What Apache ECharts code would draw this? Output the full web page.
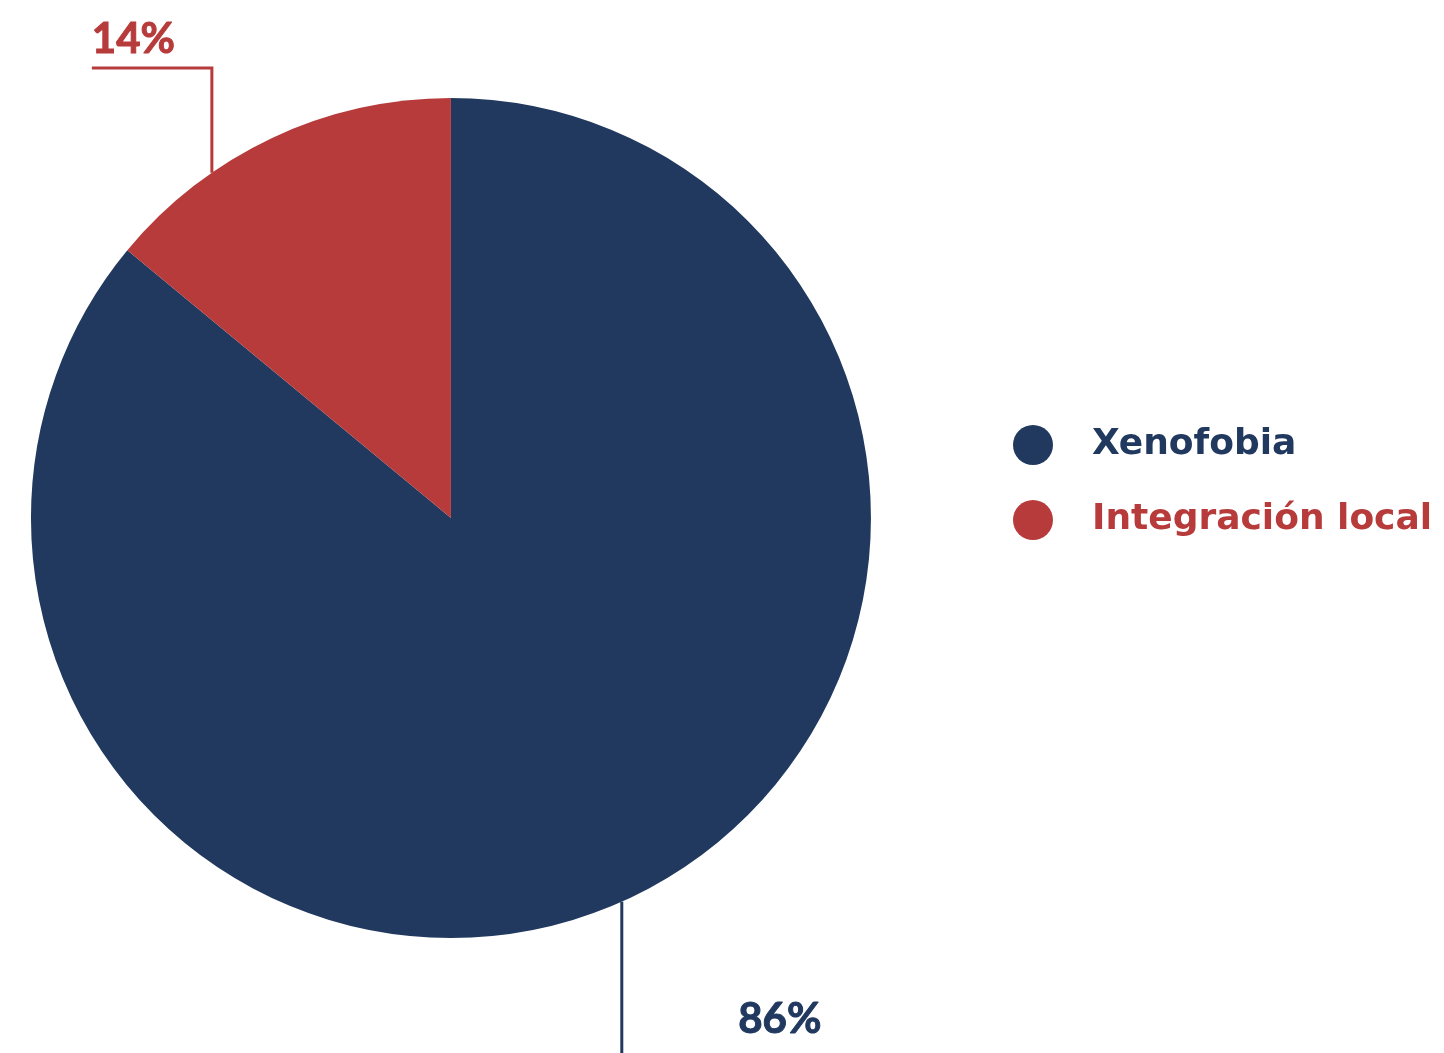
<!DOCTYPE html>
<html>
<head>
<meta charset="utf-8">
<script src="https://cdn.jsdelivr.net/npm/echarts@6/dist/echarts.min.js"></script>
<style>
html,body{margin:0;padding:0;background:#fff;}
#chart{width:1444px;height:1053px;}
</style>
</head>
<body>
<div id="chart"></div>
<script>
const categories = ['Xenofobia', 'Integración local'];
const values = [86, 14];
const colors = ['#21395F', '#B63B3A'];

const chart = echarts.init(document.getElementById('chart'));
const CX = 0.3123, CY = 0.4919, R = 420;

function layout(params) {
  const w = chart.getWidth(), h = chart.getHeight();
  const cx = w * CX, cy = h * CY;
  if (params.dataIndex === 1) {
    const a = 124.7 * Math.PI / 180;
    const sx = cx + R * Math.cos(a), sy = cy - R * Math.sin(a);
    const topY = cy - R - 30;
    const endX = sx - 120;
    return {
      x: endX, y: topY - 29, align: 'left', verticalAlign: 'middle',
      labelLinePoints: [[sx, sy], [sx, topY], [endX, topY]]
    };
  } else {
    const a = -66 * Math.PI / 180;
    const sx = cx + R * Math.cos(a), sy = cy - R * Math.sin(a);
    return {
      x: sx + 158, y: cy + 501, align: 'center', verticalAlign: 'middle',
      labelLinePoints: [[sx, sy], [sx, h + 20], [sx, h + 30]]
    };
  }
}

chart.setOption({
  animation: false,
  color: colors,
  legend: {
    orient: 'vertical',
    left: 1008,
    top: 420,
    icon: 'circle',
    itemWidth: 40,
    itemHeight: 40,
    itemGap: 35,
    selectedMode: false,
    textStyle: {
      fontFamily: 'DejaVu Sans',
      fontWeight: 'bold',
      fontSize: 36,
      padding: [0, 0, 0, 34]
    },
    data: categories.map((c, i) => ({ name: c, textStyle: { color: colors[i] } }))
  },
  series: [{
    type: 'pie',
    center: [(CX * 100) + '%', (CY * 100) + '%'],
    radius: R,
    startAngle: 90,
    clockwise: true,
    silent: true,
    avoidLabelOverlap: false,
    data: categories.map((c, i) => ({
      name: c, value: values[i],
      label: { color: colors[i], textBorderColor: colors[i] },
      labelLine: { lineStyle: { color: colors[i] } }
    })),
    label: {
      show: true,
      position: 'outside',
      formatter: '{c}%',
      fontFamily: 'Lato',
      fontWeight: 'bold',
      fontSize: 42,
      textBorderWidth: 1
    },
    labelLine: {
      show: true,
      lineStyle: { width: 3 }
    },
    labelLayout: layout,
    emphasis: { disabled: true }
  }]
});
</script>
</body>
</html>
